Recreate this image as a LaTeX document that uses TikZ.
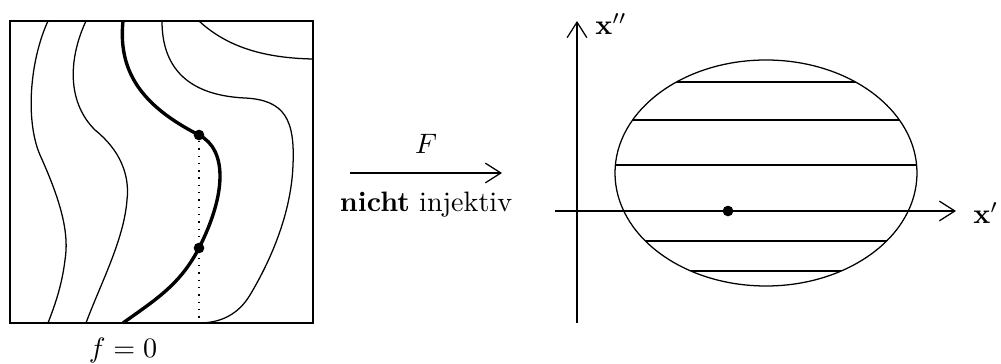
\documentclass[tikz,border=0pt]{standalone}
\usetikzlibrary{arrows.meta}
\begin{document}
\begin{tikzpicture}[x=0.356pt,y=-0.356pt,
  thin line/.style={line width=0.45pt},
  thick curve/.style={line width=1.2pt},
  axis/.style={line width=0.45pt,-{Straight Barb[length=5.5pt,width=7pt,line width=0.45pt]}},
  dotfill/.style={circle,fill=black,inner sep=0pt,minimum size=3.8pt},
  lbl/.style={inner sep=1pt}]
\useasboundingbox (0,0) rectangle (1001,364);
% left box
\draw[thin line] (10,21) rectangle (313,323);
\draw[thin line] (48,21) .. controls (30,60) and (25,120) .. (40,155) .. controls (58,195) and (70,230) .. (65,260) .. controls (62,285) and (55,305) .. (48,323);
\draw[thin line] (86,21) .. controls (70,55) and (65,100) .. (95,130) .. controls (120,150) and (130,175) .. (127,200) .. controls (124,240) and (100,285) .. (86,323);
\draw[thick curve] (123,21) .. controls (118,70) and (140,105) .. (199,135) .. controls (228,150) and (226,195) .. (199,248) .. controls (180,285) and (155,300) .. (123,323);
\draw[thin line] (162,21) .. controls (162,60) and (180,95) .. (245,98) .. controls (285,100) and (295,120) .. (293,165) .. controls (291,220) and (265,270) .. (250,295) .. controls (238,315) and (220,323) .. (199,323);
\draw[thin line] (199,21) .. controls (225,45) and (260,58) .. (313,59);
\node[dotfill] (p1) at (199,135) {};
\node[dotfill] (p2) at (199,248) {};
\coordinate (pb) at (199,318);
\draw[line width=0.5pt,dash pattern=on 0.5pt off 2.1pt] (p1) -- (pb);
\node[lbl] (f0) at (123,350) {$f=0$};
% middle arrow
\coordinate (a1) at (350,173);
\coordinate (a2) at (502,173);
\draw[line width=0.45pt,-{Straight Barb[length=5.5pt,width=7pt,line width=0.45pt]}] (a1) -- (a2);
\node[lbl] (F) at (426,144) {$F$};
\node[lbl] (ni) at (426,205) {\textbf{nicht} injektiv};
% right diagram
\begin{scope}
\clip (766,173) ellipse [x radius=151, y radius=113];
\foreach \yy in {82,120,165,241,271} \draw[thin line] (600,\yy) -- (930,\yy);
\draw[line width=1pt] (600,211) -- (930,211);
\end{scope}
\draw[thin line] (766,173) ellipse [x radius=151, y radius=113];
\coordinate (xs) at (555,211);
\coordinate (xe) at (956,211);
\coordinate (ys) at (577,323);
\coordinate (ye) at (577,21);
\draw[axis] (xs) -- (xe);
\draw[axis] (ys) -- (ye);
\node[dotfill] (p3) at (728,211) {};
\node[lbl,anchor=west] (xp) at (970,213) {$\mathbf{x}'$};
\node[lbl,anchor=west] (xpp) at (592,24) {$\mathbf{x}''$};
\end{tikzpicture}
\end{document}
